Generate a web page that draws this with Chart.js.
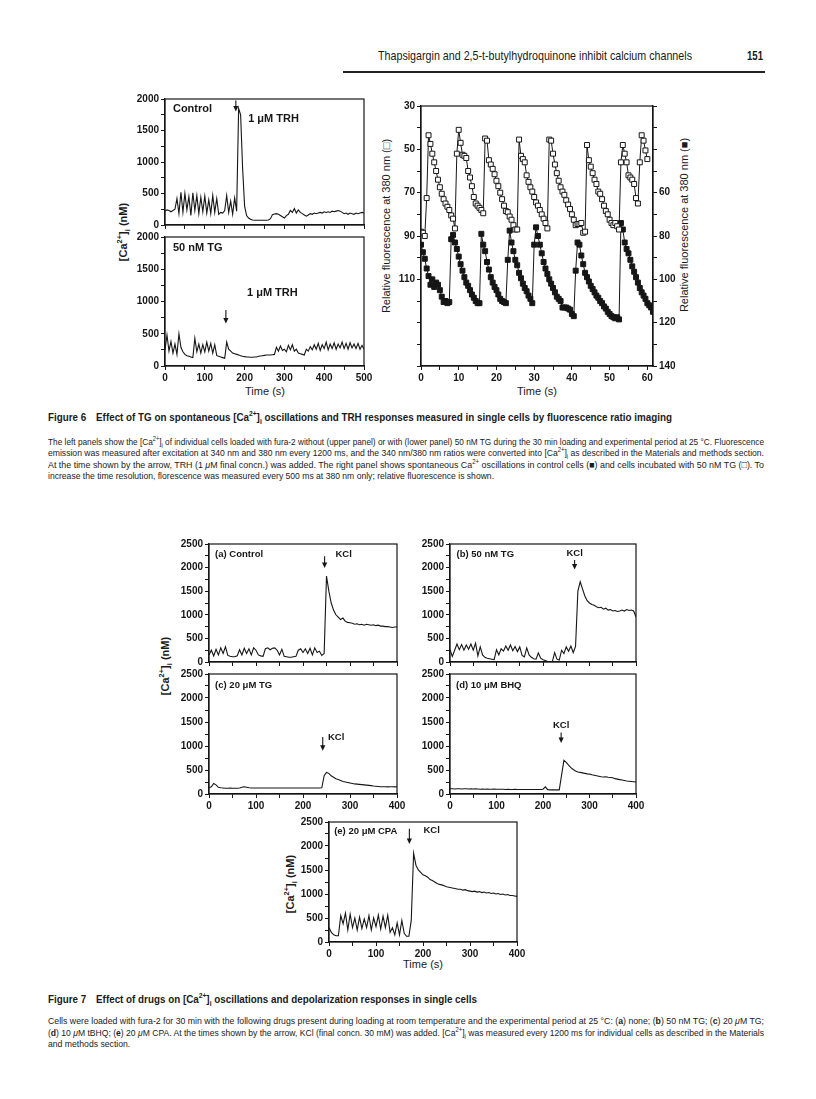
<!DOCTYPE html>
<html>
<head>
<meta charset="utf-8">
<title>Figures 6 and 7</title>
<script src="https://cdn.jsdelivr.net/npm/chart.js@4.4.1/dist/chart.umd.min.js"></script>
<style>
  html, body { margin: 0; padding: 0; background: #fff; }
  body { width: 816px; height: 1099px; position: relative; overflow: hidden; color: #1a1a1a;
         font-family: "Liberation Sans", Arial, sans-serif; }
  canvas { position: absolute; }
  .t { position: absolute; white-space: nowrap; }
  .ytitle { position: absolute; white-space: nowrap; transform: translate(-50%, -50%) rotate(-90deg); font-size: 11px; }
  .xtitle { position: absolute; white-space: nowrap; transform: translate(-50%, -50%); font-size: 11px; }
  .ln { position: absolute; left: 48px; white-space: nowrap; font-size: 9.5px; line-height: 11px; transform-origin: 0 50%; }
  .cap { position: absolute; left: 48px; white-space: nowrap; font-size: 11px; line-height: 14px; font-weight: bold; transform-origin: 0 50%; }
  sup, sub { font-size: 68%; line-height: 0; }
</style>
</head>
<body>

<div class="t" id="hdr" style="left:378px; top:49px; font-size:13px; line-height:14px; transform-origin:0 50%">Thapsigargin and 2,5-t-butylhydroquinone inhibit calcium channels</div>
<div class="t" id="pg" style="left:747px; top:49px; font-size:13px; line-height:14px; font-weight:bold; transform-origin:0 50%">151</div>
<div class="t" style="left:343px; top:71px; width:422px; height:1.5px; background:#222"></div>

<!-- axis titles -->
<div class="ytitle" style="left:123px; top:232px; font-weight:bold">[Ca<sup>2+</sup>]<sub>i</sub> (nM)</div>
<div class="ytitle" style="left:386px; top:226px">Relative fluorescence at 380 nm (□)</div>
<div class="ytitle" style="left:684px; top:225px">Relative fluorescence at 380 nm (■)</div>
<div class="xtitle" style="left:265px; top:391px">Time (s)</div>
<div class="xtitle" style="left:537px; top:391px">Time (s)</div>
<div class="ytitle" style="left:165px; top:666px; font-weight:bold">[Ca<sup>2+</sup>]<sub>i</sub> (nM)</div>
<div class="ytitle" style="left:290px; top:884px; font-weight:bold">[Ca<sup>2+</sup>]<sub>i</sub> (nM)</div>
<div class="xtitle" style="left:423px; top:964px">Time (s)</div>

<!-- Figure 6 caption -->
<div class="cap" id="cap6" style="top:410px">Figure 6&emsp;Effect of TG on spontaneous [Ca<sup>2+</sup>]<sub>i</sub> oscillations and TRH responses measured in single cells by fluorescence ratio imaging</div>
<div class="ln p6 full" style="top:435.5px">The left panels show the [Ca<sup>2+</sup>]<sub>i</sub> of individual cells loaded with fura-2 without (upper panel) or with (lower panel) 50 nM TG during the 30 min loading and experimental period at 25 °C. Fluorescence</div>
<div class="ln p6 full" style="top:447px">emission was measured after excitation at 340 nm and 380 nm every 1200 ms, and the 340 nm/380 nm ratios were converted into [Ca<sup>2+</sup>]<sub>i</sub> as described in the Materials and methods section.</div>
<div class="ln p6 full" style="top:458.5px">At the time shown by the arrow, TRH (1 <i>μ</i>M final concn.) was added. The right panel shows spontaneous Ca<sup>2+</sup> oscillations in control cells (■) and cells incubated with 50 nM TG (□). To</div>
<div class="ln p6 last" style="top:470px">increase the time resolution, florescence was measured every 500 ms at 380 nm only; relative fluorescence is shown.</div>

<!-- Figure 7 caption -->
<div class="cap" id="cap7" style="top:992px">Figure 7&emsp;Effect of drugs on [Ca<sup>2+</sup>]<sub>i</sub> oscillations and depolarization responses in single cells</div>
<div class="ln p7 full" style="top:1015px">Cells were loaded with fura-2 for 30 min with the following drugs present during loading at room temperature and the experimental period at 25 °C: (<b>a</b>) none; (<b>b</b>) 50 nM TG; (<b>c</b>) 20 <i>μ</i>M TG;</div>
<div class="ln p7 full" style="top:1026.5px">(<b>d</b>) 10 <i>μ</i>M tBHQ; (<b>e</b>) 20 <i>μ</i>M CPA. At the times shown by the arrow, KCl (final concn. 30 mM) was added. [Ca<sup>2+</sup>]<sub>i</sub> was measured every 1200 ms for individual cells as described in the Materials</div>
<div class="ln p7 last" style="top:1038px">and methods section.</div>

<script>
// ---- Figure 6, left panels: [Ca2+]i (nM) sampled every 5 s ----
const f6Time = [
  0,5,10,15,20,25,30,35,40,45,50,55,60,65,70,75,80,85,90,95,
  100,105,110,115,120,125,130,135,140,145,150,155,160,165,170,175,180,185,190,195,
  200,205,210,215,220,225,230,235,240,245,250,255,260,265,270,275,280,285,290,295,
  300,305,310,315,320,325,330,335,340,345,350,355,360,365,370,375,380,385,390,395,
  400,405,410,415,420,425,430,435,440,445,450,455,460,465,470,475,480,485,490,495,
  500];
const f6Control = [
  220,240,230,210,230,250,420,180,520,200,
  500,240,450,150,510,230,470,180,440,210,
  460,190,400,180,470,200,420,170,200,190,
  230,470,200,380,170,430,220,1850,1750,900,
  300,150,110,90,80,75,75,75,75,75,
  75,75,80,100,165,175,180,170,150,130,
  110,150,170,230,200,260,190,240,200,180,
  160,140,160,180,170,190,180,190,200,190,
  210,200,210,200,220,210,220,230,220,200,
  180,190,170,190,180,170,190,180,190,200,
  190];
const f6TG = [
  250,480,230,380,200,340,180,500,290,220,
  180,160,150,140,130,430,220,340,200,330,
  220,370,230,350,200,330,160,150,140,130,
  120,370,260,230,200,190,180,170,160,150,
  145,140,140,135,135,140,140,150,155,160,
  165,170,170,170,175,180,290,230,310,240,
  260,220,320,250,330,230,260,200,190,180,
  170,260,230,300,250,330,260,350,240,330,
  270,370,250,340,270,360,260,340,280,370,
  270,350,260,360,280,340,270,350,260,320,
  260];
const f6CaTicks = [0, 500, 1000, 1500, 2000];
const f6TimeTicks = [0, 100, 200, 300, 400, 500];

// ---- Figure 6, right panel: relative fluorescence at 380 nm every 0.5 s ----
const fastTime = [
  0,0.5,1,1.5,2,2.5,3,3.5,4,4.5,5,5.5,6,6.5,7,7.5,8,8.5,9,9.5,
  10,10.5,11,11.5,12,12.5,13,13.5,14,14.5,15,15.5,16,16.5,17,17.5,18,18.5,19,19.5,
  20,20.5,21,21.5,22,22.5,23,23.5,24,24.5,25,25.5,26,26.5,27,27.5,28,28.5,29,29.5,
  30,30.5,31,31.5,32,32.5,33,33.5,34,34.5,35,35.5,36,36.5,37,37.5,38,38.5,39,39.5,
  40,40.5,41,41.5,42,42.5,43,43.5,44,44.5,45,45.5,46,46.5,47,47.5,48,48.5,49,49.5,
  50,50.5,51,51.5,52,52.5,53,53.5,54,54.5,55,55.5,56,56.5,57,57.5,58,58.5,59,59.5,
  60,60.5,61,61.5];
const tgOpen = [   // 50 nM TG, left axis (□)
  88,88.5,90,72.5,43.5,47.5,52,56,60,64,
  67.5,70.5,73,75,76.5,78,80.5,82,86.5,52,
  41,47,52.5,53,54,60,63,67,72,75,
  76,77,78,79.5,45,46,55,57,59,61.5,
  64.5,67,70,73,76,78.5,79,81,82.5,85,
  87,87,45.5,53,54.5,56,62,65,67.5,69.5,
  72,74.5,76,78,80,82,84,86.5,45.5,46,
  52,57,61,64.5,67.5,69.5,71,73.5,75.5,77.5,
  80,82.5,85,84.5,84.5,84,88.5,88,48,55,
  58,61,64,66,69.5,70.5,73,76,78.5,80,
  82.5,84,85,84,85.5,87,56,48,52,56,
  62,63,64,66,72.5,75,56,43.5,46,50.5,
  54.5];
const controlFilled = [   // control, right axis (■)
  84,87.5,90.5,95,98.5,102.5,100,103.5,101.5,102.5,
  105,108,110.5,110,111,110.5,81.5,79.5,83,86,
  89.5,93,96,99,101.5,103,105,107,108.5,110,
  111,111,79,84,87,92,95.5,99,101.5,103.5,
  105,107,109,110,110.5,111,91,77.5,83,87,
  91,93.5,97,99.5,102,104,105.5,107.5,109,111,
  84,76,80,84,88,92,95,97.5,100,102,
  104,106,108,109,110,113,113,113,113.5,114,
  116,117,96,83,84,89,93,97,99,101,
  103,104.5,106,107.5,108.5,110,111,112.5,113.5,115,
  116,117,117.5,118,117.5,118.5,74,77,83,86,
  88,91,94,96.5,99,101.5,104,106,107.5,109,
  111,112,113,115];
const fastTimeTicks = [0, 10, 20, 30, 40, 50, 60];
const openAxisTicks = [30, 50, 70, 90, 110];
const filledAxisTicks = [60, 80, 100, 120, 140];

// ---- Figure 7: [Ca2+]i (nM) sampled every 5 s ----
const f7Time = [
  0,5,10,15,20,25,30,35,40,45,50,55,60,65,70,75,80,85,90,95,
  100,105,110,115,120,125,130,135,140,145,150,155,160,165,170,175,180,185,190,195,
  200,205,210,215,220,225,230,235,240,245,250,255,260,265,270,275,280,285,290,295,
  300,305,310,315,320,325,330,335,340,345,350,355,360,365,370,375,380,385,390,395,
  400];
const f7Control = [
  150,250,130,270,150,300,180,320,140,120,
  110,110,130,260,150,290,180,280,150,300,
  250,150,130,120,280,300,260,290,300,250,
  150,270,120,110,100,100,110,120,250,280,
  200,280,180,290,150,300,200,230,140,180,
  1820,1500,1250,1100,1000,950,900,930,860,840,
  830,820,800,810,790,800,780,800,790,780,
  790,770,780,760,760,750,750,740,730,740,
  740];
const f7TG50nM = [
  260,120,250,380,260,370,250,360,270,380,
  250,400,130,320,150,100,80,70,60,50,
  260,150,280,230,340,250,360,240,330,220,
  320,140,110,300,150,100,70,60,190,80,
  50,30,10,5,5,200,60,40,250,180,
  320,230,340,200,330,1500,1700,1550,1400,1300,
  1250,1220,1200,1170,1150,1160,1120,1140,1100,1110,
  1080,1090,1070,1080,1100,1080,1110,1090,1100,1080,
  950];
const f7TG20uM = [
  130,150,220,190,140,130,125,120,120,122,
  120,121,120,125,140,150,140,130,125,124,
  125,124,125,126,125,124,125,125,124,125,
  125,124,125,126,125,124,125,125,124,125,
  125,124,125,126,125,124,125,125,130,380,
  450,430,380,350,320,300,280,260,250,240,
  230,220,210,205,200,195,190,185,180,175,
  165,160,155,150,150,150,148,150,150,148,
  150];
const f7BHQ = [
  110,110,105,110,110,105,110,110,105,110,
  105,110,105,100,105,100,105,100,100,105,
  100,100,100,100,95,100,95,95,100,95,
  95,95,95,95,95,95,95,95,95,95,
  100,150,90,85,85,85,85,85,400,700,
  660,600,550,510,480,460,450,440,430,420,
  415,400,390,380,370,360,355,360,350,345,
  340,320,310,300,290,280,270,265,260,255,
  250];
const f7CPA = [
  300,200,150,130,130,550,380,600,250,580,
  300,500,250,520,280,480,300,550,250,500,
  320,560,270,540,300,560,200,300,150,400,
  150,450,180,120,120,450,1850,1600,1500,1450,
  1400,1380,1350,1300,1280,1250,1220,1200,1190,1170,
  1150,1140,1130,1120,1110,1100,1100,1080,1090,1070,
  1060,1050,1060,1040,1050,1030,1040,1020,1030,1010,
  1020,1000,1010,990,1000,980,990,970,970,960,
  950];
const f7CaTicks = [0, 500, 1000, 1500, 2000, 2500];
const f7TimeTicks = [0, 100, 200, 300, 400];

// ---- drawing ----
const INK = '#161616';
const FONT = '"Liberation Sans", Arial, sans-serif';
const tickFont = { family: FONT, size: 10, weight: 'bold' };

Chart.defaults.font.family = FONT;
Chart.defaults.color = INK;

const pairs = (xs, ys) => ys.map((y, i) => ({ x: xs[i], y }));

// arrows, in-panel labels and the closed frame round each plot
const notesPlugin = {
  id: 'notes',
  afterDraw(chart, args, o) {
    const { ctx, chartArea: a } = chart;
    const xs = chart.scales.x, ys = chart.scales.y;
    ctx.save();
    ctx.strokeStyle = INK; ctx.fillStyle = INK; ctx.lineWidth = 1.2;
    ctx.strokeRect(a.left, a.top, a.right - a.left, a.bottom - a.top);
    (o.arrows || []).forEach(ar => {
      const x = xs.getPixelForValue(ar.x);
      const y1 = ys.getPixelForValue(ar.from), y2 = ys.getPixelForValue(ar.to);
      ctx.lineWidth = 1.1;
      ctx.beginPath(); ctx.moveTo(x, y1); ctx.lineTo(x, y2 - 4); ctx.stroke();
      ctx.beginPath(); ctx.moveTo(x - 2.6, y2 - 5.5); ctx.lineTo(x + 2.6, y2 - 5.5); ctx.lineTo(x, y2); ctx.closePath(); ctx.fill();
    });
    (o.texts || []).forEach(n => {
      ctx.font = 'bold ' + (n.size || 10) + 'px ' + FONT;
      ctx.textAlign = n.align || 'left';
      ctx.textBaseline = 'middle';
      ctx.fillText(n.text, xs.getPixelForValue(n.x), ys.getPixelForValue(n.y));
    });
    ctx.restore();
  }
};

function axis(min, max, step, labels, fit, position, extra) {
  return Object.assign({
    type: 'linear', position, min, max,
    ticks: { stepSize: step, autoSkip: false, includeBounds: false, maxRotation: 0, minRotation: 0,
             color: INK, font: tickFont, padding: 2,
             callback: v => labels.includes(v) ? String(v) : '' },
    grid: { display: true, drawOnChartArea: false, drawTicks: true, tickLength: 4, color: INK, lineWidth: 1 },
    border: { display: true, color: INK, width: 1.2 },
    afterFit: s => { if (s.isHorizontal()) s.height = fit; else s.width = fit; }
  }, extra || {});
}

// canvas placed so that the plot area lands on box {x0,y0,x1,y1}
function canvasFor(box, lw, rw, bh) {
  const padT = 10, padR = 14;
  const c = document.createElement('canvas');
  const w = Math.round((box.x1 - box.x0) + lw + (rw || padR));
  const h = Math.round((box.y1 - box.y0) + padT + bh);
  c.width = w; c.height = h;
  c.style.width = w + 'px'; c.style.height = h + 'px';
  c.style.left = (box.x0 - lw) + 'px';
  c.style.top = (box.y0 - padT) + 'px';
  document.body.appendChild(c);
  return { c, padding: { top: padT, right: rw ? 0 : padR, left: 0, bottom: 0 } };
}

function trace(data) {
  return { data, borderColor: INK, borderWidth: 1.1, pointRadius: 0, tension: 0, fill: false };
}

function caPanel(box, time, values, xMax, xLabels, yMax, yLabels, showX, notes) {
  const bh = showX ? 18 : 4;
  const { c, padding } = canvasFor(box, 40, 0, bh);
  return new Chart(c, {
    type: 'line',
    data: { datasets: [trace(pairs(time, values))] },
    options: {
      responsive: false, animation: false, devicePixelRatio: 1, events: [],
      layout: { padding },
      scales: {
        x: axis(0, xMax, 50, showX ? xLabels : [], bh, 'bottom'),
        y: axis(0, yMax, 250, yLabels, 40, 'left')
      },
      plugins: { legend: { display: false }, tooltip: { enabled: false }, notes }
    },
    plugins: [notesPlugin]
  });
}

// Figure 6 left
caPanel({ x0: 165, y0: 99, x1: 364, y1: 229 }, f6Time, f6Control, 500, f6TimeTicks, 2000, f6CaTicks, false, {
  texts: [{ x: 20, y: 1840, text: 'Control', size: 11 }, { x: 209, y: 1690, text: '1 μM TRH', size: 11 }],
  arrows: [{ x: 178, from: 1975, to: 1800 }]
});
caPanel({ x0: 165, y0: 237, x1: 364, y1: 366 }, f6Time, f6TG, 500, f6TimeTicks, 2000, f6CaTicks, true, {
  texts: [{ x: 20, y: 1830, text: '50 nM TG', size: 11 }, { x: 206, y: 1127, text: '1 μM TRH', size: 11 }],
  arrows: [{ x: 153, from: 870, to: 660 }]
});

// Figure 6 right
(function () {
  const box = { x0: 421, y0: 106, x1: 653, y1: 366 };
  const { c, padding } = canvasFor(box, 36, 36, 18);
  const pt = fill => ({ pointStyle: 'rect', pointRadius: 3.5, pointBorderWidth: 1,
                        pointBorderColor: INK, pointBackgroundColor: fill,
                        borderColor: INK, borderWidth: 1, tension: 0, fill: false });
  new Chart(c, {
    type: 'line',
    data: { datasets: [
      Object.assign({ data: pairs(fastTime, tgOpen), yAxisID: 'y' }, pt('#ffffff')),
      Object.assign({ data: pairs(fastTime, controlFilled), yAxisID: 'y2' }, pt(INK))
    ] },
    options: {
      responsive: false, animation: false, devicePixelRatio: 1, events: [],
      layout: { padding },
      scales: {
        x: axis(0, 61.5, 5, fastTimeTicks, 18, 'bottom'),
        y: axis(30, 150, 10, openAxisTicks, 36, 'left', { reverse: true }),
        y2: axis(20, 140, 10, filledAxisTicks, 36, 'right', { reverse: true })
      },
      plugins: { legend: { display: false }, tooltip: { enabled: false }, notes: {} }
    },
    plugins: [notesPlugin]
  });
})();

// Figure 7
caPanel({ x0: 209, y0: 544, x1: 396.5, y1: 665.5 }, f7Time, f7Control, 400, f7TimeTicks, 2500, f7CaTicks, false, {
  texts: [{ x: 13, y: 2290, text: '(a) Control', size: 9.5 }, { x: 269, y: 2270, text: 'KCl', size: 9.5 }],
  arrows: [{ x: 246, from: 2240, to: 1990 }]
});
caPanel({ x0: 449.5, y0: 544, x1: 635.5, y1: 665.5 }, f7Time, f7TG50nM, 400, f7TimeTicks, 2500, f7CaTicks, false, {
  texts: [{ x: 14, y: 2290, text: '(b) 50 nM TG', size: 9.5 }, { x: 268, y: 2300, text: 'KCl', size: 9.5, align: 'center' }],
  arrows: [{ x: 268, from: 2160, to: 1960 }]
});
caPanel({ x0: 209, y0: 674, x1: 396.5, y1: 794 }, f7Time, f7TG20uM, 400, f7TimeTicks, 2500, f7CaTicks, true, {
  texts: [{ x: 13, y: 2270, text: '(c) 20 μM TG', size: 9.5 }, { x: 253, y: 1170, text: 'KCl', size: 9.5 }],
  arrows: [{ x: 242, from: 1190, to: 900 }]
});
caPanel({ x0: 449.5, y0: 674, x1: 635.5, y1: 794 }, f7Time, f7BHQ, 400, f7TimeTicks, 2500, f7CaTicks, true, {
  texts: [{ x: 13, y: 2270, text: '(d) 10 μM BHQ', size: 9.5 }, { x: 239, y: 1430, text: 'KCl', size: 9.5, align: 'center' }],
  arrows: [{ x: 239, from: 1280, to: 1060 }]
});
caPanel({ x0: 328.5, y0: 822, x1: 516.5, y1: 942 }, f7Time, f7CPA, 400, f7TimeTicks, 2500, f7CaTicks, true, {
  texts: [{ x: 11, y: 2310, text: '(e) 20 μM CPA', size: 9.5 }, { x: 201, y: 2320, text: 'KCl', size: 9.5 }],
  arrows: [{ x: 171, from: 2360, to: 2040 }]
});

// ---- condensed text: squeeze real text horizontally to the printed widths ----
function squeeze(el, k) { el.style.transformOrigin = '0 50%'; el.style.transform = 'scaleX(' + k + ')'; }
function widthOf(el) { return el.getBoundingClientRect().width; }

squeeze(document.getElementById('hdr'), 314 / widthOf(document.getElementById('hdr')));
squeeze(document.getElementById('pg'), 16 / widthOf(document.getElementById('pg')));

const capK = 429 / widthOf(document.getElementById('cap7'));
squeeze(document.getElementById('cap7'), capK);
squeeze(document.getElementById('cap6'), capK);

['p6', 'p7'].forEach(cls => {
  const lines = Array.from(document.querySelectorAll('.' + cls));
  let ks = [];
  lines.filter(l => l.classList.contains('full')).forEach(l => {
    const k = 716 / widthOf(l); ks.push(k); squeeze(l, k);
  });
  const avg = ks.reduce((a, b) => a + b, 0) / ks.length;
  lines.filter(l => l.classList.contains('last')).forEach(l => squeeze(l, avg));
});
</script>
</body>
</html>
